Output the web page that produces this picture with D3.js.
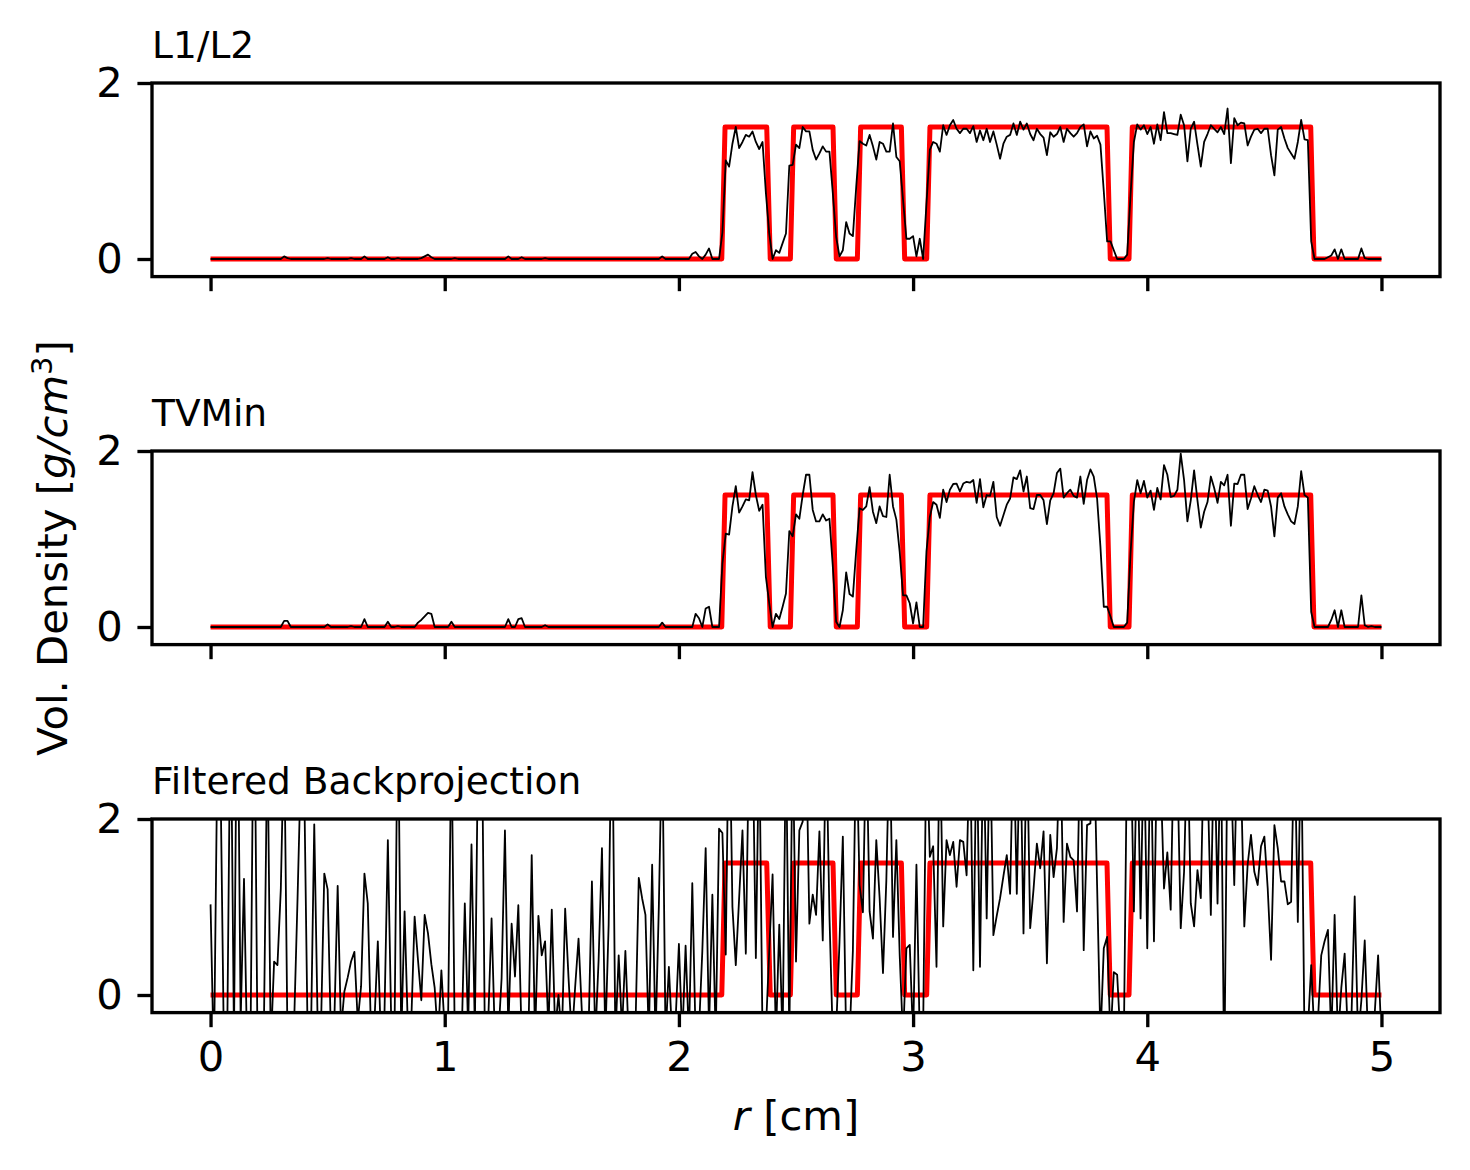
<!DOCTYPE html>
<html>
<head>
<meta charset="utf-8">
<script src="https://cdn.jsdelivr.net/npm/d3@7"></script>
<style>
  body { margin: 0; background: #fff; }
  svg { display: block; font-family: "DejaVu Sans", sans-serif; }
</style>
</head>
<body>
<svg id="chart" width="1470" height="1170"></svg>
<script>
// reconstructed density profiles, one sample every 1/70 cm from r = 0 to r = 5
const l1l2Vals = [
  0,0,0,0,0,0,0,0,0,0,
  0,0,0,0,0,0,0,0,0,0,
  0,0,0.03,0.01,0,0,0,0,0,0,
  0,0,0,0,0,0.01,0,0,0,0,
  0,0,0.01,0,0,0,0.03,0,0,0,
  0,0,0,0.02,0,0,0.01,0,0,0,
  0,0,0,0.01,0.03,0.05,0.02,0,0,0,
  0,0,0,0.01,0,0,0,0,0,0,
  0,0,0,0,0,0,0,0,0,0.03,
  0,0,0,0.02,0,0,0,0,0,0,
  0.01,0,0,0,0,0,0,0,0,0,
  0,0,0,0,0,0,0,0,0,0,
  0,0,0,0,0,0,0,0,0,0,
  0,0,0,0,0,0.03,0,0,0,0,
  0,0,0,0,0.06,0.08,0.03,0,0.05,0.12,
  0,0,0,0.3,1.12,1.05,1.31,1.5,1.26,1.33,
  1.41,1.39,1.45,1.33,1.25,1.33,0.75,0.29,0,0.1,
  0.07,0.18,0.29,1.06,1.07,1.3,1.26,1.5,1.45,1.45,
  1.24,1.13,1.2,1.28,1.22,1.22,0.75,0.25,0.03,0.1,
  0.42,0.29,0.26,0.82,1.34,1.31,1.29,1.41,1.28,1.13,
  1.33,1.31,1.22,1.22,1.54,1.16,1.11,0.67,0.23,0.23,
  0.26,0.03,0.23,0,0.63,1.24,1.33,1.31,1.22,1.52,
  1.41,1.52,1.58,1.48,1.43,1.48,1.48,1.43,1.51,1.33,
  1.46,1.35,1.48,1.33,1.45,1.3,1.14,1.31,1.39,1.41,
  1.54,1.41,1.56,1.47,1.54,1.42,1.35,1.48,1.42,1.38,
  1.18,1.44,1.39,1.42,1.5,1.33,1.48,1.43,1.39,1.43,
  1.5,1.53,1.28,1.45,1.37,1.4,1.3,0.77,0.2,0.2,
  0.1,0,0,0,0.05,0.73,1.33,1.53,1.47,1.52,
  1.42,1.5,1.31,1.53,1.35,1.67,1.43,1.43,1.42,1.41,
  1.64,1.52,1.11,1.48,1.56,1.3,1.05,1.33,1.42,1.52,
  1.48,1.44,1.5,1.42,1.71,1.09,1.6,1.52,1.55,1.54,
  1.29,1.39,1.47,1.48,1.43,1.48,1.48,1.18,0.95,1.47,
  1.5,1.37,1.26,1.2,1.14,1.33,1.58,1.36,1.35,0.2,
  0,0,0,0,0.02,0.04,0.11,0,0.11,0,
  0,0,0,0,0.12,0.01,0,0,0,0,
  0
];

const tvMinVals = [
  0,0,0,0,0,0,0,0,0,0,
  0,0,0,0,0,0,0,0,0,0,
  0,0,0.07,0.07,0,0,0,0,0,0,
  0,0,0,0,0,0.03,0,0,0,0,
  0,0,0.01,0,0,0,0.09,0,0,0,
  0,0,0,0.06,0,0,0.01,0,0,0,
  0,0,0.05,0.08,0.12,0.16,0.15,0,0,0,
  0,0,0.06,0,0,0,0,0,0,0,
  0,0,0,0,0,0,0,0,0,0.09,
  0,0,0.09,0.1,0,0,0,0,0,0,
  0.02,0,0,0,0,0,0,0,0,0,
  0,0,0,0,0,0,0,0,0,0,
  0,0,0,0,0,0,0,0,0,0,
  0,0,0,0,0,0.05,0,0,0,0,
  0,0,0,0,0,0.15,0.1,0,0.21,0.23,
  0,0,0,0.72,1.06,1.05,1.37,1.6,1.3,1.37,
  1.45,1.44,1.76,1.5,1.32,1.39,0.57,0.27,0,0.15,
  0.09,0.23,0.38,1.09,1.03,1.28,1.23,1.5,1.73,1.73,
  1.33,1.2,1.2,1.28,1.21,1.23,0.69,0.06,0,0.19,
  0.62,0.375,0.345,0.875,1.35,1.33,1.37,1.59,1.31,1.18,
  1.37,1.26,1.25,1.73,1.37,1.22,0.85,0.36,0.36,0.27,
  0.04,0.28,0,0,0.86,1.25,1.42,1.39,1.24,1.56,
  1.42,1.56,1.625,1.63,1.54,1.63,1.65,1.64,1.67,1.41,
  1.68,1.36,1.5,1.49,1.65,1.25,1.15,1.27,1.39,1.46,
  1.7,1.68,1.78,1.54,1.71,1.35,1.34,1.5,1.5,1.44,
  1.17,1.44,1.52,1.75,1.8,1.47,1.52,1.56,1.49,1.47,
  1.71,1.4,1.67,1.79,1.71,1.46,0.91,0.23,0.23,0.12,
  0,0,0,0,0.05,0.84,1.42,1.67,1.52,1.66,
  1.47,1.55,1.33,1.58,1.45,1.84,1.73,1.48,1.49,1.56,
  1.97,1.67,1.2,1.44,1.78,1.44,1.13,1.31,1.42,1.71,
  1.58,1.41,1.65,1.61,1.73,1.15,1.63,1.625,1.73,1.73,
  1.34,1.46,1.6,1.5,1.42,1.56,1.55,1.37,1.03,1.47,
  1.52,1.37,1.28,1.2,1.17,1.37,1.77,1.5,1.47,0.17,
  0,0,0,0,0,0.08,0.19,0,0.19,0,
  0,0,0,0,0.36,0.02,0,0.01,0,0,
  0
];

const fbpVals = [
  1.03,-0.8,2.6,2.4,-0.6,-0.4,3.5,-0.5,4.0,-0.3,
  1.32,-0.8,-0.3,4.0,-0.4,-0.4,-0.2,3.0,-0.6,0.38,
  0.34,1.2,3.0,-0.5,-0.5,-0.3,1.09,2.6,2.4,-0.4,
  -0.5,1.94,-0.3,-0.4,1.38,1.2,-0.5,-0.3,1.24,-0.4,
  0.04,0.2,0.38,0.49,-0.3,0.1,1.38,1.04,-0.5,-0.3,
  0.61,-0.6,-0.2,1.76,-0.3,-0.4,3.5,-0.5,0.95,-0.4,
  -0.3,0.89,0.4,-0.06,0.91,0.7,0.35,0.08,-0.5,0.28,
  -0.4,-0.3,3.0,-0.5,-0.3,-0.6,1.04,-0.4,1.71,-0.4,
  3.0,3.5,-0.5,-0.3,0.87,-0.5,-0.5,0.19,1.87,-0.4,
  0.81,0.21,1.02,-0.5,-0.2,-0.5,1.59,-0.5,0.9,0.45,
  0.61,-0.4,0.97,-0.4,0.0,-0.5,0.98,0.2,-0.5,0.1,
  0.64,-0.2,-0.5,-0.4,1.29,-0.5,0.4,1.67,-0.5,0.8,
  3.5,-0.5,0.45,-0.4,0.5,-0.5,-0.2,-0.4,1.33,1.1,
  0.91,-0.5,1.48,-0.5,1.0,3.0,-0.5,0.32,-0.5,-0.3,
  0.58,-0.5,0.56,-0.5,1.27,-0.5,-0.4,0.5,1.67,-0.4,
  1.14,-0.5,1.89,1.84,0.46,3.5,1.0,0.34,1.1,1.87,
  0.47,3.0,3.0,0.42,3.0,-0.5,-0.4,0.5,1.37,-0.5,
  0.8,-0.5,3.0,-0.5,3.0,0.38,1.87,1.97,3.0,0.81,
  1.14,0.91,1.86,0.62,3.0,0.9,-0.5,-0.4,0.6,1.8,
  -0.5,-0.5,0.5,3.0,1.25,0.94,3.0,0.95,0.64,1.76,
  1.1,0.25,1.3,3.0,0.66,1.76,0.45,-0.5,0.53,0.57,
  -0.5,1.48,-0.5,-0.4,3.0,1.57,1.69,0.32,3.0,0.78,
  1.76,1.59,1.74,1.23,1.76,1.74,1.36,3.0,0.28,3.0,
  0.32,3.0,0.87,3.0,0.68,0.9,1.1,1.35,1.59,1.15,
  3.0,1.15,3.0,0.7,3.0,0.76,1.2,1.72,1.44,1.86,
  0.36,1.82,1.34,1.67,3.0,0.83,1.72,1.57,1.53,0.95,
  3.0,0.51,1.93,1.95,3.0,1.25,-0.5,0.53,0.66,-0.5,
  0.26,0.23,-0.5,-0.5,3.0,3.0,0.95,3.0,0.87,3.0,
  0.53,3.0,0.61,3.0,2.5,1.21,1.62,0.97,3.0,2.6,
  0.76,1.4,3.0,1.04,0.78,1.42,1.1,3.0,2.5,0.91,
  3.0,1.04,3.0,-1.0,3.0,2.6,1.25,3.0,2.5,0.78,
  1.48,1.82,1.4,1.25,1.69,1.8,1.21,0.4,1.93,1.67,
  1.29,1.29,1.03,1.06,3.0,0.83,3.0,-0.5,-0.4,0.34,
  -0.5,-0.3,0.45,0.61,0.74,-0.5,0.91,-0.5,0.08,0.47,
  -0.5,-0.3,1.12,-0.5,-0.06,0.62,-0.5,-0.5,-0.2,0.45,
  -0.5
];

// true profile, as [r, density] corners
const trueProfile = [
  [0, 0], [2.183, 0], [2.197, 1.5], [2.375, 1.5], [2.39, 0],
  [2.476, 0], [2.49, 1.5], [2.658, 1.5], [2.672, 0],
  [2.762, 0], [2.776, 1.5], [2.95, 1.5], [2.964, 0],
  [3.058, 0], [3.072, 1.5], [3.828, 1.5], [3.842, 0],
  [3.922, 0], [3.936, 1.5], [4.698, 1.5], [4.712, 0], [5, 0]
];

const panelTitles = ['L1/L2', 'TVMin', 'Filtered Backprojection'];
const panelSeries = [l1l2Vals, tvMinVals, fbpVals];
const xTicks = [0, 1, 2, 3, 4, 5];
const yTicks = [0, 2];

const PX = 300 / 72; // points -> pixels at 300 dpi
const left = 152, right = 1440;
const panelTops = [83, 451, 819];
const panelH = 193.6;
const tickLen = 3.5 * PX;
const lineW = 0.8 * PX;

const svg = d3.select('#chart');

const x = d3.scaleLinear().domain([-0.25, 5.25]).range([left, right]);

panelSeries.forEach((vals, p) => {
  const top = panelTops[p];
  const y = d3.scaleLinear().domain([-0.2, 2]).range([top + panelH, top]);
  const g = svg.append('g');

  g.append('clipPath').attr('id', `clip${p}`)
    .append('rect')
    .attr('x', left).attr('y', top)
    .attr('width', right - left).attr('height', panelH);

  const pts = vals.map((v, i) => [i / 70, v]);
  const line = d3.line().x((d) => x(d[0])).y((d) => y(d[1]));

  const plot = g.append('g').attr('clip-path', `url(#clip${p})`);
  plot.append('path')
    .datum(trueProfile)
    .attr('d', line)
    .attr('fill', 'none')
    .attr('stroke', '#ff0000')
    .attr('stroke-width', 5)
    .attr('stroke-linejoin', 'round');
  plot.append('path')
    .datum(pts)
    .attr('d', line)
    .attr('fill', 'none')
    .attr('stroke', '#000')
    .attr('stroke-width', 1.8)
    .attr('stroke-linejoin', 'round');

  // axes
  const yAxis = d3.axisLeft(y).tickValues(yTicks).tickSize(tickLen).tickPadding(tickLen)
    .tickFormat(d3.format('d'));
  const ya = g.append('g').attr('transform', `translate(${left},0)`).call(yAxis);

  const xAxis = d3.axisBottom(x).tickValues(xTicks).tickSize(tickLen).tickPadding(tickLen)
    .tickFormat(p === 2 ? d3.format('d') : () => '');
  const xa = g.append('g').attr('transform', `translate(0,${top + panelH})`).call(xAxis);

  [ya, xa].forEach((a) => {
    a.select('.domain').remove();
    a.selectAll('line').attr('stroke', '#000').attr('stroke-width', lineW);
    a.selectAll('text').attr('font-size', 41.7).attr('fill', '#000')
      .attr('font-family', '"DejaVu Sans", sans-serif');
  });

  g.append('rect')
    .attr('x', left).attr('y', top)
    .attr('width', right - left).attr('height', panelH)
    .attr('fill', 'none').attr('stroke', '#000').attr('stroke-width', lineW);

  g.append('text')
    .attr('x', left).attr('y', top - 25)
    .attr('font-size', 37.5)
    .text(panelTitles[p]);
});

// x label
const xl = svg.append('text')
  .attr('x', (left + right) / 2).attr('y', 1130)
  .attr('text-anchor', 'middle').attr('font-size', 41.7);
xl.append('tspan').attr('font-style', 'italic').text('r');
xl.append('tspan').text(' [cm]');

// y label
const yl = svg.append('text')
  .attr('transform', 'translate(67,548) rotate(-90)')
  .attr('text-anchor', 'middle').attr('font-size', 41.7);
yl.append('tspan').text('Vol. Density [');
yl.append('tspan').attr('font-style', 'italic').text('g/cm');
yl.append('tspan').attr('font-size', 29).attr('dy', -15).text('3');
yl.append('tspan').attr('dy', 15).text(']');
</script>
</body>
</html>
